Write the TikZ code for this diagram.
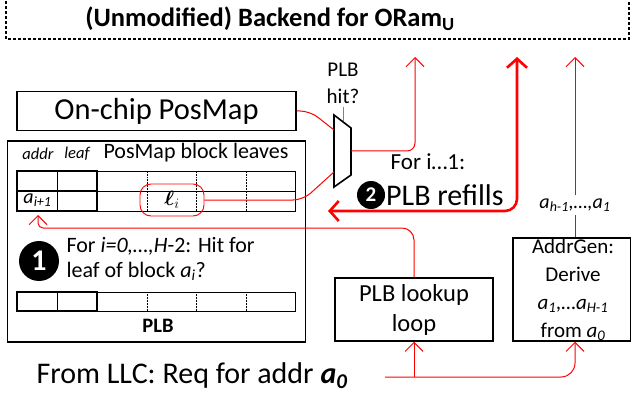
\documentclass[tikz,border=0pt]{standalone}
\usepackage{fontspec}
\setmainfont{Carlito}
\usetikzlibrary{arrows.meta}
\usetikzlibrary{positioning}
\usepackage{amsmath}

\tikzset{
    box/.style={draw, line width=1.5pt, inner sep=0pt},
    wire/.style={red, line width=1pt, rounded corners=8pt},
    bigwire/.style={red, line width=2.6pt, rounded corners=12pt},
    cellthick/.style={line width=1.8pt},
    cellthin/.style={line width=0.7pt},
    celldot/.style={densely dotted, line width=0.5pt},
    numdot/.style={circle, fill=black, text=white, inner sep=0pt, font=\bfseries},
    thintip/.style={-{Straight Barb[length=9pt,width=18pt]}},
    fattip/.style={{Straight Barb[length=9pt,width=20pt]}-{Straight Barb[length=9pt,width=20pt]}}
}

\begin{document}
\begin{tikzpicture}[x=1pt, y=-1pt]
    % pixel coords, y goes down
    \useasboundingbox (0,0) rectangle (631,398);

    % the backend banner, open at the top
    \draw [line width=1.2pt, dash pattern=on 3pt off 2pt] (6,-4) -- (6,39) -- (629,39) -- (629,-4);
    \node [font=\bfseries\fontsize{26.5}{30}\selectfont] (backend) at (270,19) {(Unmodified) Backend for ORam\textsubscript{U}};

    % posmap + plb boxes
    \node [box, minimum width=279, minimum height=39, font=\fontsize{30.5}{34}\selectfont] (posmap) at (156.5,111) {On-chip PosMap};
    \node [box, minimum width=298, minimum height=201] (plb) at (156.5,241.5) {};

    \node [font=\itshape\fontsize{16.5}{18}\selectfont] (addrhdr) at (38,154) {addr};
    \node [font=\itshape\fontsize{16.5}{18}\selectfont] (leafhdr) at (77,154) {leaf};
    \node [font=\fontsize{22}{26}\selectfont] (leaveshdr) at (196,153) {PosMap block leaves};

    % upper table, two rows
    \draw [cellthin] (97,171) rectangle (295,211);
    \draw [cellthin] (97,191) -- (295,191);
    \foreach \x in {147,196,246}
        \draw [celldot] (\x,171) -- (\x,211);
    \draw [cellthick] (17,171) rectangle (97,211);
    \draw [cellthick] (57.5,171) -- (57.5,211);
    \draw [cellthick] (17,191) -- (97,191);

    % lower table, one row
    \draw [cellthin] (97,292) rectangle (295,311);
    \foreach \x in {147,196,246}
        \draw [celldot] (\x,292) -- (\x,311);
    \draw [cellthick] (17,292) rectangle (97,311);
    \draw [cellthick] (57.5,292) -- (57.5,311);

    \node [font=\fontsize{20}{24}\selectfont] (aip) at (37.5,200) {\textit{a\textsubscript{i+1}}};
    \node [draw=red, line width=0.9pt, rounded corners=11pt, minimum width=64, minimum height=32, font=\fontsize{21}{24}\selectfont] (lsel) at (172,200) {$\boldsymbol{\ell}_{i}$};

    \node [font=\bfseries\fontsize{20.5}{24}\selectfont] (plblbl) at (158,326) {PLB};

    % step 1
    \node [numdot, minimum size=40, font=\bfseries\fontsize{30}{30}\selectfont] (one) at (39,261) {1};
    \node [anchor=west, align=left, font=\fontsize{22}{25}\selectfont] (hitq) at (63,259) {For \textit{i=0,\ldots,H}-2: Hit for\\leaf of block \textit{a\textsubscript{i}}?};

    % the mux
    \coordinate (muxtl) at (334,115);
    \coordinate (muxtr) at (351,128);
    \coordinate (muxbr) at (351,175);
    \coordinate (muxbl) at (334,187);
    \coordinate (muxinA) at (334,130);
    \coordinate (muxinB) at (334,172);
    \coordinate (muxout) at (351,151);
    \coordinate (muxsel) at (343,121.5);
    \draw [line width=1.6pt, fill=white] (muxtl) -- (muxtr) -- (muxbr) -- (muxbl) -- cycle;
    \node [align=center, font=\fontsize{21}{27}\selectfont] (plbhit) at (343,83) {PLB\\hit?};
    \draw [red!70, line width=1pt] (plbhit.south) -- (muxsel);

    \draw [wire, rounded corners=10pt] (posmap.east) -- (310,111) -- (muxinA);
    \draw [wire, rounded corners=10pt] (lsel.east) -- (303,200) -- (muxinB);

    % arrows to the backend
    \coordinate (outtop) at (415,57);
    \coordinate (refilltop) at (517,57);
    \coordinate (refillend) at (328,211);
    \coordinate (agtop) at (575,57);
    \draw [wire, thintip] (muxout) -- (415,151) -- (outtop);
    \draw [bigwire, fattip] (refillend) -- (517,211) -- (refilltop);

    % step 2
    \node [font=\fontsize{23}{26}\selectfont] (fori) at (428,162) {For i\ldots1:};
    \node [numdot, minimum size=28, font=\bfseries\fontsize{21}{21}\selectfont] (two) at (371,195) {2};
    \node [anchor=west, font=\fontsize{30}{34}\selectfont, inner sep=0pt] (refills) at (386,195) {PLB refills};

    % addrgen
    \node [box, minimum width=118, minimum height=103] (addrgen) at (572,289.5) {};
    \node [align=center, font=\fontsize{21}{28}\selectfont] (addrgentxt) at (573,290) {AddrGen:\\Derive\\\textit{a\textsubscript{1},\ldots a\textsubscript{H-1}}\\from \textit{a\textsubscript{0}}};
    \node [font=\itshape\fontsize{20}{24}\selectfont] (hseq) at (575,205) {a\textsubscript{h-1},\ldots,a\textsubscript{1}};
    \draw [wire] (hseq.south) -- (hseq.south |- addrgen.north);
    \draw [wire, thintip] (hseq.north) -- (agtop);

    % plb lookup loop
    \node [box, minimum width=158, minimum height=63, align=center, font=\fontsize{24.5}{30}\selectfont] (lookup) at (414,309.5) {PLB lookup\\loop};
    \coordinate (hitback) at (38,215);
    \draw [wire, thintip, rounded corners=12pt] (lookup.north) -- (414,228) [rounded corners=5pt] -- (38,228) -- (hitback);

    % request from the LLC
    \node [anchor=west, font=\fontsize{30}{34}\selectfont] (llc) at (33,376) {From LLC: Req for addr \textbf{\textit{a\textsubscript{0}}}};
    \coordinate (req) at (385,377);
    \draw [wire, thintip, rounded corners=14pt] (req) -- (req -| hseq) -- (hseq |- addrgen.south);
    \draw [wire, thintip] (req -| lookup) -- (lookup.south);

\end{tikzpicture}
\end{document}
